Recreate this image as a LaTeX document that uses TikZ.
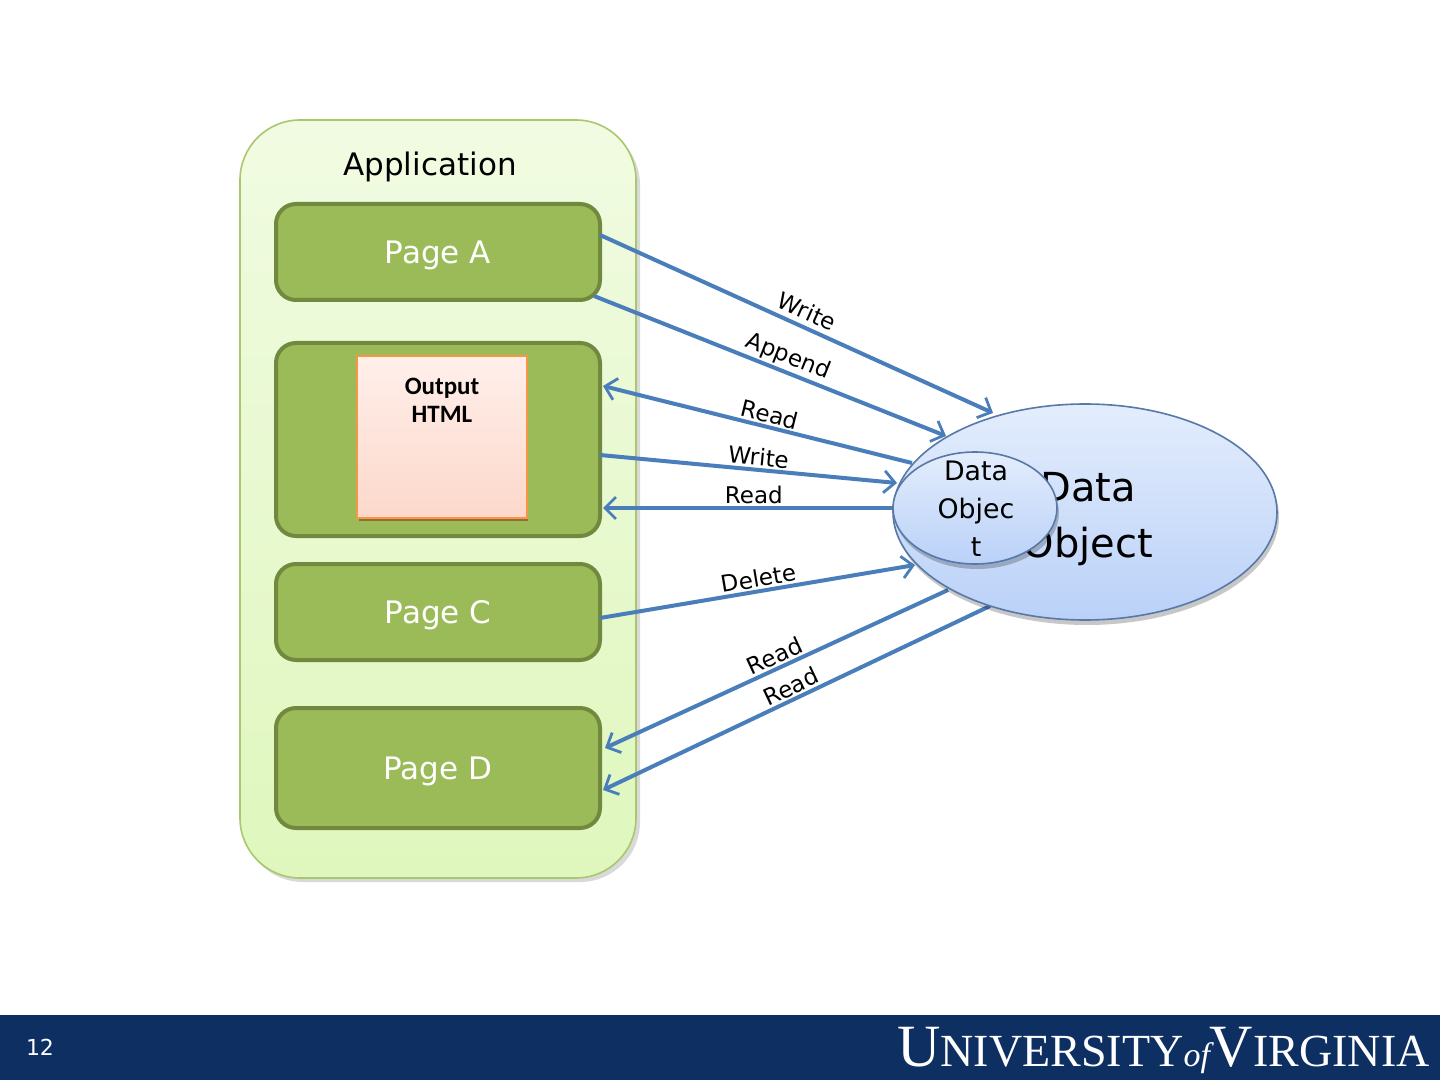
\documentclass[tikz,border=0pt]{standalone}
\usepackage{fontspec}
\setmainfont{DejaVu Sans}
\newfontfamily\carlito{Carlito}
\newfontfamily\lserif{Liberation Serif}
\usetikzlibrary{arrows.meta,shapes.geometric}
\definecolor{pagefill}{HTML}{9BBB59}
\definecolor{pageline}{HTML}{71893F}
\definecolor{apptop}{HTML}{F1FBE2}
\definecolor{appbot}{HTML}{DFF7BD}
\definecolor{appline}{HTML}{A9C76E}
\definecolor{arrowblue}{HTML}{4A7EBB}
\definecolor{elltop}{HTML}{E3EDFC}
\definecolor{ellbot}{HTML}{BAD1F8}
\definecolor{ellline}{HTML}{5878A8}
\definecolor{htmltop}{HTML}{FFEFEA}
\definecolor{htmlbot}{HTML}{FDD8CB}
\definecolor{htmlline}{HTML}{F79646}
\definecolor{banner}{HTML}{0E2F62}
\begin{document}
\begin{tikzpicture}[x=0.5pt,y=-0.5pt,
  pagebox/.style={draw=pageline, line width=2pt, fill=pagefill, rounded corners=10pt,
    minimum width=162pt, inner sep=0pt, text=white, text depth=0pt, font=\fontsize{15.5}{18}\selectfont},
  flow/.style={draw=arrowblue, line width=2pt,
    -{Straight Barb[length=5.5pt,width=11pt,line width=1.4pt]}},
  flowback/.style={draw=arrowblue, line width=2pt,
    {Straight Barb[length=5.5pt,width=11pt,line width=1.4pt]}-},
  lbl/.style={font=\fontsize{11.5}{13}\selectfont, sloped, above, inner sep=1pt, text=black},
  ellbox/.style={ellipse, draw=ellline, line width=0.8pt, top color=elltop, bottom color=ellbot, inner sep=0pt},
  shade/.style={ellipse, fill=black, opacity=0.22, inner sep=0pt}
]
\useasboundingbox (0,0) rectangle (1440,1080);
\fill[white] (0,0) rectangle (1440,1080);

% bottom banner
\fill[banner] (0,1015) rectangle (1440,1080);
\node[text=white, font=\fontsize{11}{13}\selectfont] (pgnum) at (40,1047) {12};
\node[text=white, anchor=base east, inner sep=0pt, font=\lserif] (uva) at (1430,1066)
  {{\fontsize{30}{30}\selectfont U}{\fontsize{23}{30}\selectfont NIVERSITY}{\fontsize{17}{30}\selectfont\itshape of}{\fontsize{30}{30}\selectfont V}{\fontsize{23}{30}\selectfont IRGINIA}};

% application container
\fill[black, opacity=0.15, rounded corners=30pt] (243,125) rectangle (640,882);
\node[draw=appline, line width=0.8pt, top color=apptop, bottom color=appbot, rounded corners=30pt,
  minimum width=198pt, minimum height=379pt, inner sep=0pt] (app) at (438,499) {};
\node[font=\fontsize{15.5}{18}\selectfont] (apptitle) at (430,167) {Application};

% pages
\node[pagebox, minimum height=48pt] (pa) at (438,252) {Page A};
\node[pagebox, minimum height=96.5pt] (pb) at (438,439.5) {};
\node[pagebox, minimum height=48pt] (pc) at (438,612) {Page C};
\node[pagebox, minimum height=60pt] (pd) at (438,768) {Page D};

% output HTML box
\fill[htmlline!60!black, opacity=0.8] (359,361) rectangle (528,521);
\node[draw=htmlline, line width=0.8pt, top color=htmltop, bottom color=htmlbot,
  minimum width=85pt, minimum height=81pt, inner sep=0pt] (html) at (442,437) {};
\node[font=\carlito\bfseries\fontsize{12.5}{14}\selectfont, align=center, text=black] (htmltxt) at (442,400) {Output\\HTML};

% connector end points
\coordinate (w1s) at (600,235);  \coordinate (w1e) at (993,413);
\coordinate (a2s) at (594,296);  \coordinate (a2e) at (946,436);
\coordinate (r3s) at (603,386);  \coordinate (r3e) at (912,463);
\coordinate (w4s) at (600,455);  \coordinate (w4e) at (897,483);
\coordinate (r5s) at (603,508);  \coordinate (r5e) at (893,508);
\coordinate (d6s) at (600,618);  \coordinate (d6e) at (915,565);
\coordinate (r7s) at (605,748);  \coordinate (r7e) at (948,590);
\coordinate (r8s) at (603,790);  \coordinate (r8e) at (990,606);

\draw[flow] (w1s) -- (w1e) node[lbl, pos=0.51, inner sep=2.5pt] {Write};
\draw[flow] (a2s) -- (a2e) node[lbl, pos=0.535] {Append};
\draw[flowback] (r3s) -- (r3e) node[lbl, pos=0.53] {Read};
\draw[flow] (w4s) -- (w4e) node[lbl, pos=0.53] {Write};
\draw[flowback] (r5s) -- (r5e) node[lbl, pos=0.52] {Read};
\draw[flow] (d6s) -- (d6e) node[lbl, pos=0.51] {Delete};
\draw[flowback] (r7s) -- (r7e) node[lbl, pos=0.51] {Read};
\draw[flowback] (r8s) -- (r8e) node[lbl, pos=0.5] {Read};

% data objects
\node[shade, minimum width=192pt, minimum height=108pt] (bigshadow) at (1087,517) {};
\node[ellbox, minimum width=192pt, minimum height=108pt] (big) at (1085,512) {};
\node[font=\fontsize{20}{28}\selectfont, align=center] (bigtxt) at (1088,519) {Data\\Object};
\node[shade, minimum width=82pt, minimum height=56pt] (smallshadow) at (977,513) {};
\node[ellbox, minimum width=82pt, minimum height=56pt] (small) at (975,508) {};
\node[font=\fontsize{13.4}{19}\selectfont, align=center] (smalltxt) at (976,509) {Data\\Objec\\t};
\end{tikzpicture}
\end{document}
